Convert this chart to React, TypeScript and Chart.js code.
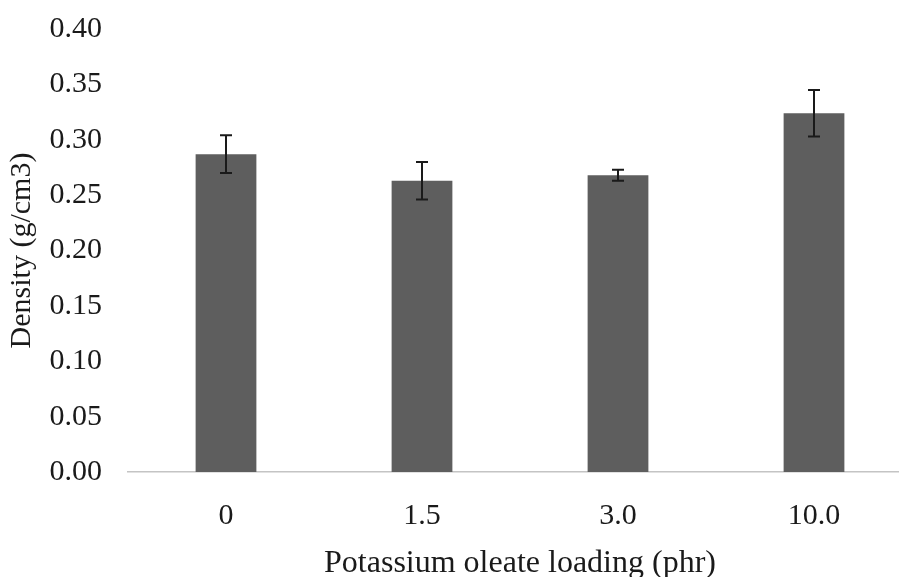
import React, { useEffect, useRef } from "react";
import { Chart, registerables } from "chart.js";

Chart.register(...registerables);

const categories = ["0", "1.5", "3.0", "10.0"];
const densityValues = [0.287, 0.263, 0.268, 0.324];
const densityErrors = [0.017, 0.017, 0.005, 0.021];
const yTicks = [0, 0.05, 0.1, 0.15, 0.2, 0.25, 0.3, 0.35, 0.4];

const FONT = "'Liberation Serif', 'Times New Roman', serif";

const errorBarPlugin = {
  id: "errorBars",
  afterDatasetsDraw(chart: any) {
    const meta = chart.getDatasetMeta(0);
    const yScale = chart.scales.y;
    const ctx = chart.ctx;
    ctx.save();
    ctx.strokeStyle = "#1a1a1a";
    ctx.lineWidth = 2;
    meta.data.forEach((bar: any, i: number) => {
      const v = densityValues[i];
      const e = densityErrors[i];
      const x = bar.x;
      const yTop = yScale.getPixelForValue(v + e);
      const yBot = yScale.getPixelForValue(v - e);
      const cap = 6;
      ctx.beginPath();
      ctx.moveTo(x, yTop);
      ctx.lineTo(x, yBot);
      ctx.moveTo(x - cap, yTop);
      ctx.lineTo(x + cap, yTop);
      ctx.moveTo(x - cap, yBot);
      ctx.lineTo(x + cap, yBot);
      ctx.stroke();
    });
    ctx.restore();
  },
};

export default function App() {
  const canvasRef = useRef<HTMLCanvasElement | null>(null);

  useEffect(() => {
    if (!canvasRef.current) return;
    const chart = new Chart(canvasRef.current, {
      type: "bar",
      data: {
        labels: categories,
        datasets: [
          {
            data: densityValues,
            backgroundColor: "#5e5e5e",
            borderWidth: 0,
            categoryPercentage: 1,
            barPercentage: 0.31,
          },
        ],
      },
      options: {
        responsive: false,
        animation: false,
        layout: { padding: { top: 29, left: 0, right: 0, bottom: 0 } },
        plugins: {
          legend: { display: false },
          tooltip: { enabled: false },
        },
        scales: {
          x: {
            grid: { display: false, drawTicks: false, tickLength: 0 },
            border: { display: true, color: "#c4c4c4", width: 1.5 },
            ticks: {
              color: "#1a1a1a",
              font: { family: FONT, size: 30 },
              padding: 26,
              maxRotation: 0,
            },
            title: {
              display: true,
              text: "Potassium oleate loading (phr)",
              color: "#1a1a1a",
              font: { family: FONT, size: 32, lineHeight: 1 },
              padding: { top: 0, bottom: -3 },
            },
            afterFit(axis: any) {
              axis.height = 105;
              axis.paddingLeft = 0;
              axis.paddingRight = 0;
            },
          },
          y: {
            min: 0,
            max: 0.4,
            afterBuildTicks(axis: any) {
              axis.ticks = yTicks.map((v) => ({ value: v }));
            },
            grid: { display: false, drawTicks: false, tickLength: 0 },
            border: { display: false },
            ticks: {
              color: "#1a1a1a",
              font: { family: FONT, size: 30 },
              padding: 26,
              callback: (v: any) => Number(v).toFixed(2),
            },
            title: {
              display: true,
              text: "Density (g/cm3)",
              color: "#1a1a1a",
              font: { family: FONT, size: 30 },
              padding: { top: 4, bottom: 0 },
            },
            afterFit(axis: any) {
              axis.width = 128;
              axis.paddingTop = 0;
              axis.paddingBottom = 0;
            },
          },
        },
      },
      plugins: [errorBarPlugin],
    });
    return () => chart.destroy();
  }, []);

  return (
    <div
      style={{
        position: "fixed",
        left: 0,
        top: 0,
        width: 899,
        height: 577,
        overflow: "hidden",
        background: "#ffffff",
      }}
    >
      <canvas
        ref={canvasRef}
        width={912}
        height={577}
        style={{ width: 912, height: 577, display: "block" }}
      />
    </div>
  );
}
